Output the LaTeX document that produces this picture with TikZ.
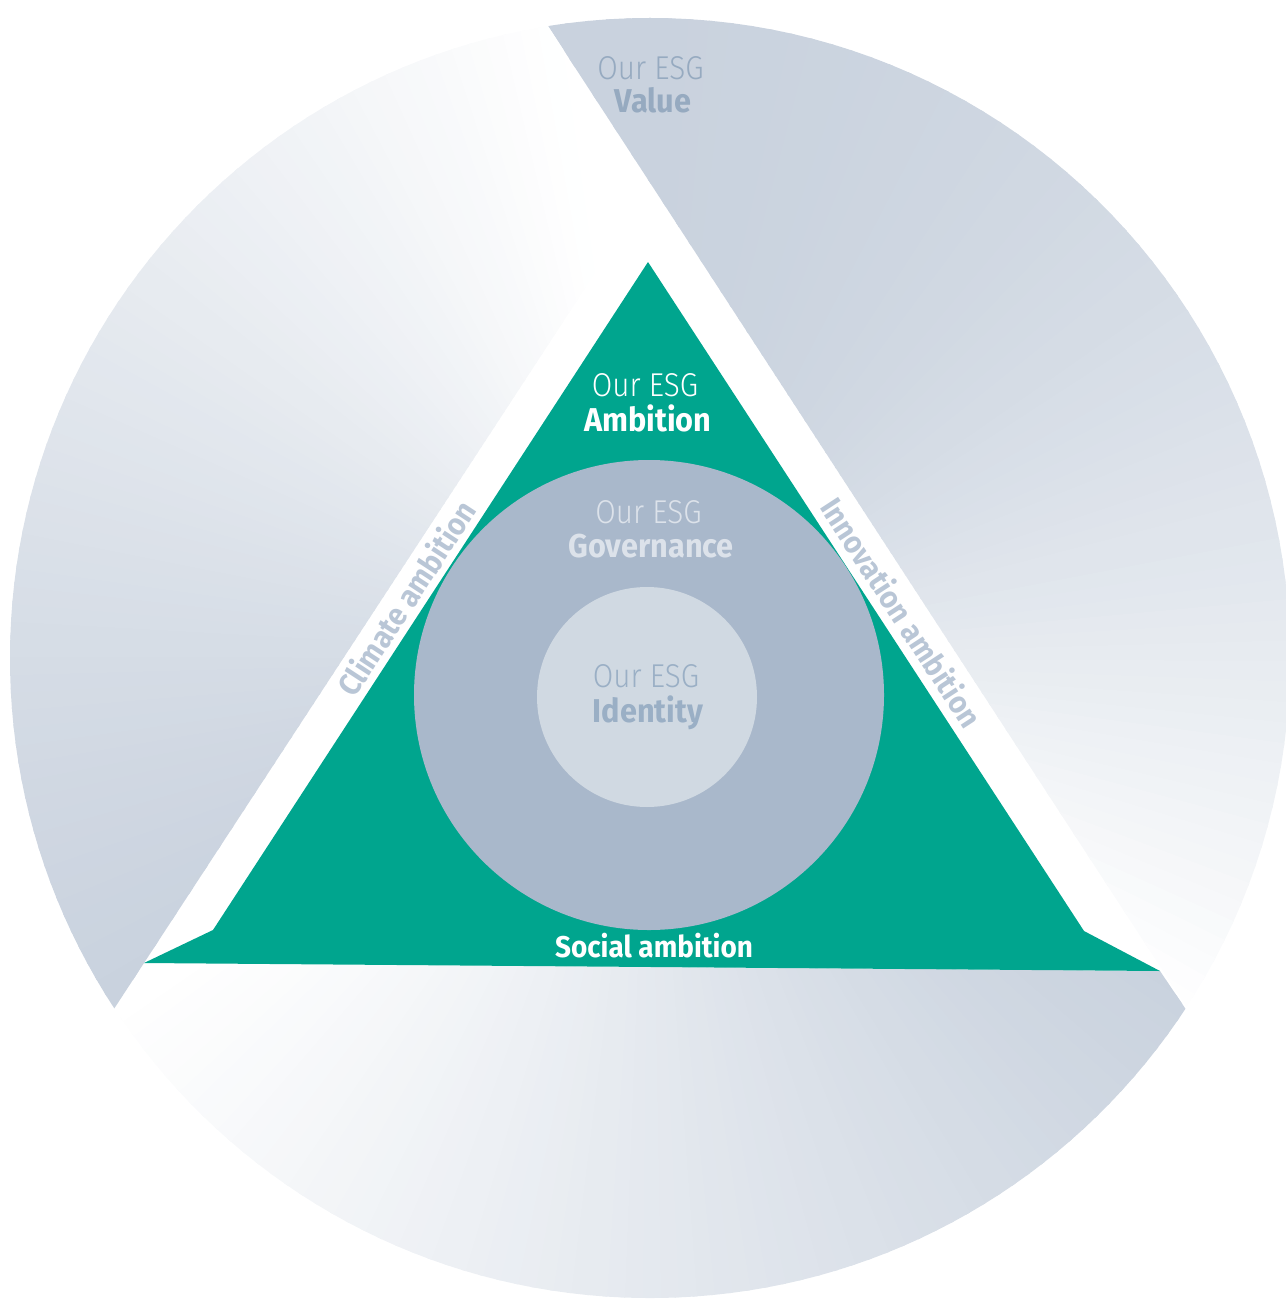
\documentclass[tikz,border=0pt]{standalone}
\usepackage{fontspec}
\setmainfont{Fira Sans}
\newfontfamily\lightfont[FakeStretch=0.9]{Fira Sans Light}
\newfontfamily\condfont[FakeStretch=0.93]{Fira Sans}
\usetikzlibrary{calc}
\definecolor{secdark}{RGB}{201,210,222}
\definecolor{esggreen}{RGB}{0,165,142}
\definecolor{govfill}{RGB}{169,184,203}
\definecolor{idfill}{RGB}{208,217,226}
\definecolor{valtext}{RGB}{150,170,192}
\definecolor{govtext}{RGB}{220,226,234}
\definecolor{idtext}{RGB}{154,175,197}
\definecolor{bandtext}{RGB}{185,198,214}
\tikzset{
  lt/.style={font=\lightfont\fontsize{33}{36}\selectfont, inner sep=0pt, anchor=base},
  bd/.style={font=\condfont\bfseries\fontsize{33}{36}\selectfont, inner sep=0pt, anchor=base},
  bandlabel/.style={font=\condfont\bfseries\fontsize{31}{34}\selectfont, inner sep=0pt, text=bandtext},
  sociallabel/.style={font=\condfont\bfseries\fontsize{30}{33}\selectfont, inner sep=0pt, anchor=base, text=white},
}
\newcommand\gradwedges[3]{%
  \foreach \k in {0,...,71}{%
    \pgfmathsetmacro\aa{#1+#2*\k/72}%
    \pgfmathsetmacro\ab{#1+#2*(\k+1)/72+0.4}%
    \pgfmathsetmacro\pp{100*(1-((\k+0.5)/72)^#3)}%
    \fill[secdark!\pp!white] (0,0) -- (\aa:800) -- (\ab:800) -- cycle;
  }%
}
\begin{document}
\begin{tikzpicture}[x=1pt,y=-1pt]
\useasboundingbox (0,0) rectangle (1285,1300);
\coordinate (ctr) at (650,658);
% ---- Value sector (right of L1)
\begin{scope}
  \clip (650,658) circle[radius=640];
  \clip (494,-57) -- (1243,1094) -- (1500,1094) -- (1500,-57) -- cycle;
  \begin{scope}[shift={(650,658)}]
    \fill[secdark] (0,0) -- (-103:800) -- (-99.5:800) -- cycle;
    \gradwedges{-99.5}{133}{2}
  \end{scope}
\end{scope}
% ---- Bottom sector
\begin{scope}
  \clip (650,658) circle[radius=640];
  \clip (144,963) -- (1160,971) -- (1243,1094) -- (1500,1500) -- (-200,1500) -- (59,1093) -- cycle;
  \begin{scope}[shift={(650,658)}]
    \fill[secdark] (0,0) -- (26:800) -- (31:800) -- cycle;
    \gradwedges{31}{116}{1}
  \end{scope}
\end{scope}
% ---- Left sector
\begin{scope}
  \clip (650,658) circle[radius=640];
  \clip (59,1093) -- (652,186) -- (494,-57) -- (-200,-57) -- (-200,1093) -- cycle;
  \begin{scope}[shift={(650,658)}]
    \fill[secdark] (0,0) -- (142:800) -- (146.5:800) -- cycle;
    \gradwedges{146.5}{115}{1.2}
  \end{scope}
\end{scope}
% ---- Green triangle
\fill[esggreen] (648,262) -- (1084,931) -- (1160,971) -- (144,963) -- (213,930) -- cycle;
% ---- Circles
\fill[govfill] (649,695) circle[radius=235];
\fill[idfill] (647,697) circle[radius=110];
% ---- Texts
\node[lt, text=valtext] (valA) at (650.5,80) {Our ESG};
\node[bd, text=valtext] (valB) at (653,113) {Value};
\node[lt, text=white] (ambA) at (645,396) {Our ESG};
\node[bd, text=white] (ambB) at (648,431) {Ambition};
\node[lt, text=govtext] (govA) at (648.5,523) {Our ESG};
\node[bd, text=govtext] (govB) at (651,557) {Governance};
\node[lt, text=idtext] (idA) at (646,687) {Our ESG};
\node[bd, text=idtext] (idB) at (648,722) {Identity};
\node[sociallabel] (social) at (654,957) {Social ambition};
\node[bandlabel, rotate=56.8] (climate) at (406,598) {Climate ambition};
\node[bandlabel, rotate=-56.9] (innov) at (902,612) {Innovation ambition};
\end{tikzpicture}
\end{document}
